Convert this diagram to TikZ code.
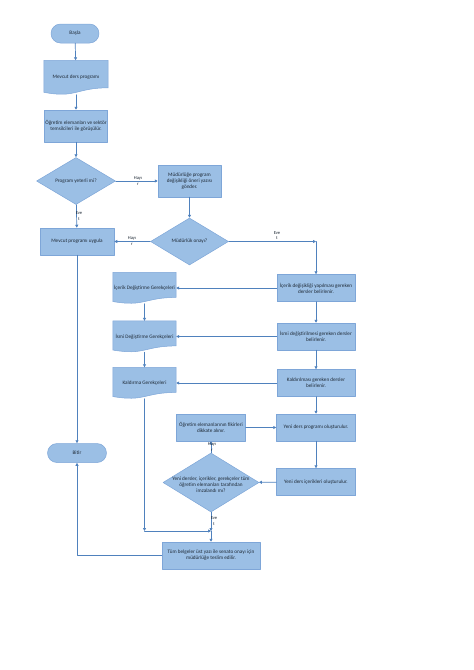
\documentclass[tikz,border=0pt]{standalone}
\usepackage{fontspec}
\setmainfont{Carlito}
\usepackage{tikz}
\usetikzlibrary{arrows.meta,positioning,calc,backgrounds,shapes.geometric}
\definecolor{boxfill}{HTML}{9BBFE5}
\definecolor{boxline}{HTML}{7EA6D8}
\definecolor{flowline}{HTML}{4F81BD}
\definecolor{ink}{HTML}{1F2A36}
\newcommand{\docshape}[1]{%
  \begin{scope}[on background layer]
    \draw[docline] (#1.north west) -- (#1.north east)
      -- ($(#1.north east)!0.80!(#1.south east)$)
      .. controls ($(#1.north)!0.80!(#1.south)$) and ($(#1.north)!1.11!(#1.south)$)
      .. ($(#1.north west)!0.93!(#1.south west)$) -- cycle;
  \end{scope}}
\tikzset{
    every picture/.style={line cap=round,line join=round},
    boxtext/.style={font=\fontsize{5.2}{6.2}\selectfont,text=ink,align=center,inner sep=1pt},
    procbox/.style={boxtext,draw=boxline,fill=boxfill,line width=0.5pt,
      minimum height=27pt},
    termbox/.style={procbox,rounded corners=9.5pt,minimum height=19pt},
    decbox/.style={diamond,draw=boxline,fill=boxfill,line width=0.5pt,inner sep=0pt},
    doctext/.style={boxtext,minimum width=63pt,minimum height=31pt},
    docline/.style={draw=boxline,fill=boxfill,line width=0.5pt},
    flow/.style={-{Triangle[length=3pt,width=3pt]},draw=flowline,line width=0.7pt},
    answer/.style={font=\fontsize{4.6}{5.4}\selectfont,text=ink,inner sep=0pt,align=center}
}
\begin{document}
\begin{tikzpicture}[x=1pt,y=-1pt]
  \useasboundingbox (0,0) rectangle (474,670);
  % left column
  \node[termbox,minimum width=48pt] (basla) at (75,33.5) {Başla};
  \node[doctext,minimum width=64pt,minimum height=34pt] (mevcut) at (76,77.5) {Mevcut ders programı};
  \docshape{mevcut}
  \node[procbox,minimum width=63pt,minimum height=32pt] (gorus) at (76,126) {Öğretim elemanları ve sektör\\temsilcileri ile görüşülür.};
  \node[decbox,minimum width=79pt,minimum height=47pt] (d1) at (76,181) {};
  \node[boxtext] (d1t) at (d1) {Program yeterli mi?};
  \node[procbox,minimum width=63pt,minimum height=32pt] (oneri) at (189.5,181) {Müdürlüğe program\\değişikliği öneri yazısı\\gönder.};
  \node[decbox,minimum width=78pt,minimum height=47pt] (d2) at (189.5,241.5) {};
  \node[boxtext] (d2t) at (d2) {Müdürlük onayı?};
  \node[procbox,minimum width=74pt] (uygula) at (77,241.5) {Mevcut programı uygula};
  \node[termbox,minimum width=59pt] (bitir) at (77,453) {Bitir};
  \coordinate (sag) at (316,241.5);
  % right column
  \foreach \n/\y/\t in {icerik/288/{İçerik değişikliği yapılması gereken\\dersler belirlenir.},
      ismi/336.5/{İsmi değiştirilmesi gereken dersler\\belirlenir.},
      kaldir/383/{Kaldırılması gereken dersler\\belirlenir.}} {
    \node[procbox,minimum width=78pt] (r\n) at (316,\y) {\t};
  }
  \foreach \n/\y/\t in {icerik/288/{İçerik Değiştirme Gerekçeleri},
      ismi/336.5/{İsmi Değiştirme Gerekçeleri},
      kaldir/383/{Kaldırma Gerekçeleri}} {
    \node[doctext] (g\n) at (144.5,\y) {\t};
    \docshape{g\n}
  }
  \node[procbox,minimum width=69pt] (fikir) at (211,427.5) {Öğretim elemanlarının fikirleri\\dikkate alınır.};
  \node[procbox,minimum width=79pt] (yeniprog) at (316,427.5) {Yeni ders programı oluşturulur.};
  \node[procbox,minimum width=79pt] (yenicerik) at (316,482) {Yeni ders içerikleri oluşturulur.};
  \node[decbox,minimum width=96pt,minimum height=59pt] (d3) at (211,482.5) {};
  \node[boxtext] (d3t) at (211,485) {Yeni dersler, içerikler, gerekçeler tüm\\öğretim elemanları tarafından\\imzalandı mı?};
  \node[procbox,minimum width=98pt] (teslim) at (211,555.5) {Tüm belgeler üst yazı ile senato onayı için\\müdürlüğe teslim edilir.};
  \coordinate (kose) at (144.5,531);
  \coordinate (birles) at (211,531);
  % connectors
  \draw[flow] (basla) -- (mevcut);
  \draw[flow] (mevcut) -- (gorus);
  \draw[flow] (gorus) -- (d1);
  \draw[flow] (d1) -- (oneri);
  \draw[flow] (d1) -- (uygula);
  \draw[flow] (oneri) -- (d2);
  \draw[flow] (d2) -- (uygula);
  \draw[flow] (d2) -- (sag);
  \draw[flow] (sag) -- (ricerik);
  \draw[flow] (uygula) -- (bitir);
  \draw[flow] (ricerik) -- (rismi);
  \draw[flow] (rismi) -- (rkaldir);
  \draw[flow] (rkaldir) -- (yeniprog);
  \foreach \n in {icerik,ismi,kaldir}
    \draw[flow] (r\n) -- (g\n);
  \draw[flow] (gicerik) -- (gismi);
  \draw[flow] (gismi) -- (gkaldir);
  \draw[flow] (gkaldir) -- (kose);
  \draw[flow] (kose) -- (birles);
  \draw[flow] (fikir) -- (yeniprog);
  \draw[flow] (yeniprog) -- (yenicerik);
  \draw[flow] (yenicerik) -- (d3);
  \draw[flow] (d3) -- (fikir);
  \draw[flow] (d3) -- (birles);
  \draw[flow] (birles) -- (teslim);
  \draw[flow] (teslim) -| (bitir);
  % answers
  \node[answer] (h1) at (138,181) {Hayı\\r};
  \node[answer] (e1) at (79,216) {Eve\\t};
  \node[answer] (h2) at (132,241) {Hayı\\r};
  \node[answer] (e2) at (277,235.5) {Eve\\t};
  \node[answer] (h3) at (212,447) {Hayı\\r};
  \node[answer] (e3) at (214,521) {Eve\\t};
\end{tikzpicture}
\end{document}
